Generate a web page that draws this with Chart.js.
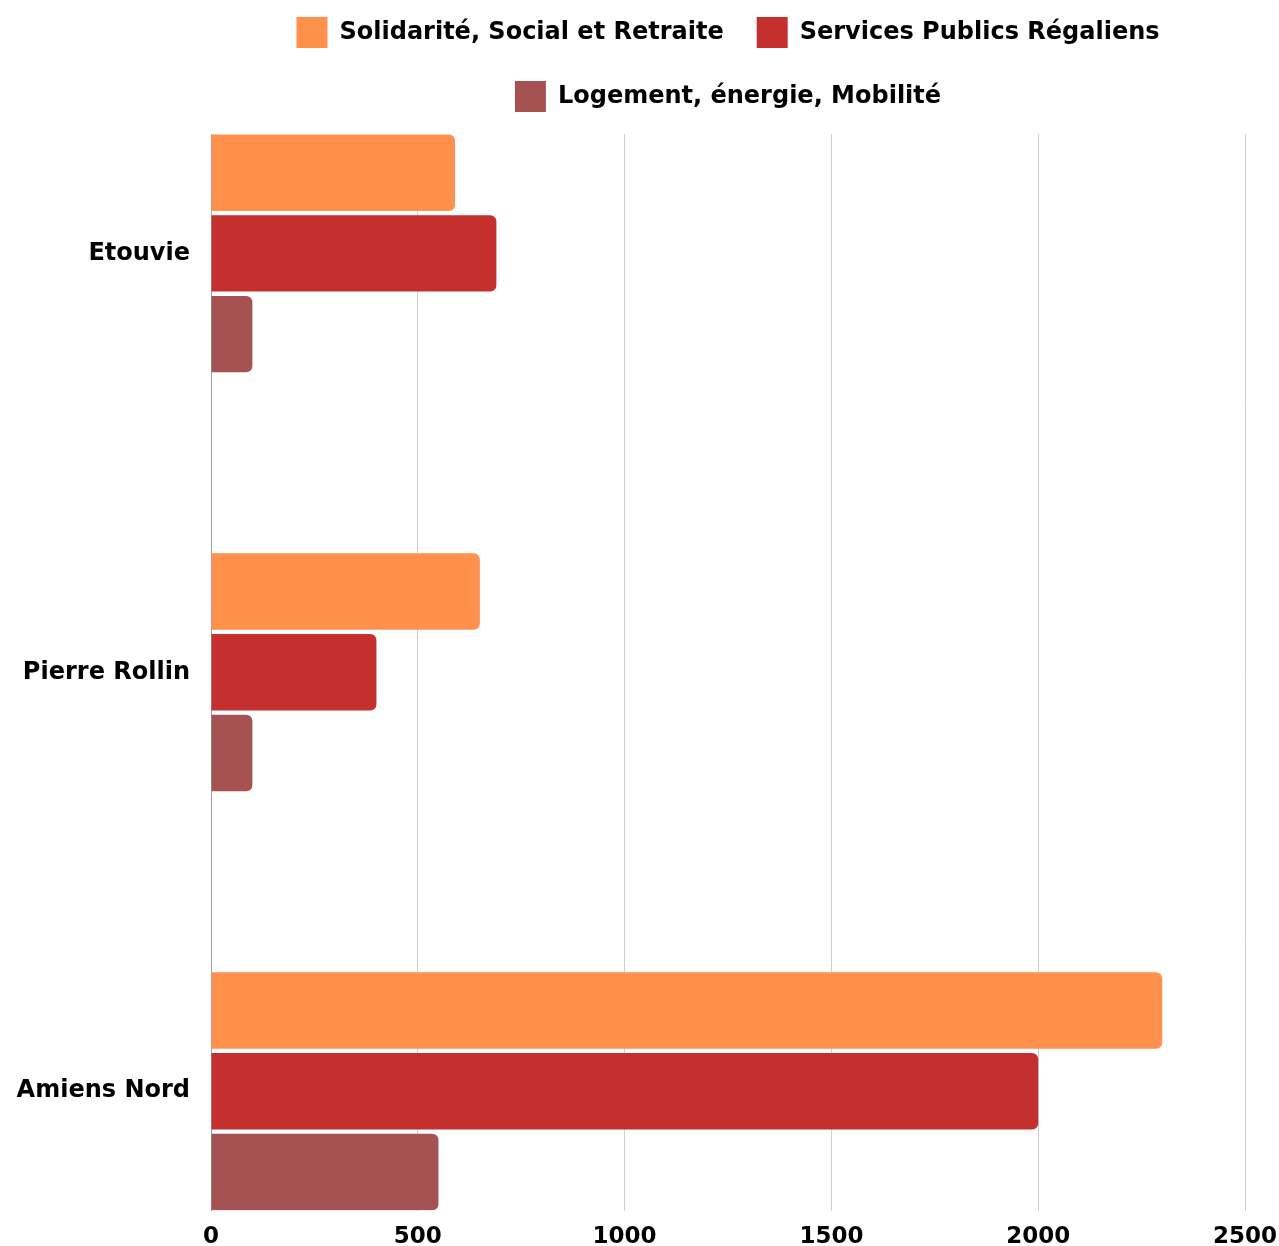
<!DOCTYPE html>
<html>
<head>
<meta charset="utf-8">
<script src="https://cdn.jsdelivr.net/npm/chart.js@4/dist/chart.umd.min.js"></script>
<style>
  html, body { margin: 0; padding: 0; background: #ffffff; }
  #wrap { width: 1279px; height: 1246px; position: relative; }
</style>
</head>
<body>
<div id="wrap"><canvas id="c"></canvas></div>
<script>
// ---- data ----
const categories = ['Etouvie', 'Pierre Rollin', 'Amiens Nord'];
const solidarite = [590, 650, 2300];
const services   = [690, 400, 2000];
const logement   = [100, 100, 550];
const seriesNames = ['Solidarité, Social et Retraite', 'Services Publics Régaliens', 'Logement, énergie, Mobilité'];
const xTicks = [0, 500, 1000, 1500, 2000, 2500];

// ---- styles ----
const colors = ['#FF914D', '#C4302E', '#A65252'];
const FONT = 'DejaVu Sans';

Chart.defaults.font.family = FONT;
Chart.defaults.color = '#000000';

function toPoints(values) {
  return categories.map((c, i) => ({ x: values[i], y: i }));
}

const legendSpacer = {
  id: 'legendSpacer',
  beforeInit(chart) {
    const orig = chart.legend.fit;
    chart.legend.fit = function () {
      orig.call(this);
      this.height += 12;
    };
  }
};

new Chart(document.getElementById('c'), {
  type: 'bar',
  data: {
    datasets: [solidarite, services, logement].map((vals, k) => ({
      label: seriesNames[k],
      data: toPoints(vals),
      backgroundColor: colors[k],
      borderWidth: 0,
      borderRadius: 6,
      categoryPercentage: 0.578,
      barPercentage: 0.947
    }))
  },
  plugins: [legendSpacer],
  options: {
    indexAxis: 'y',
    responsive: true,
    maintainAspectRatio: false,
    animation: false,
    layout: { padding: { top: -16, left: 0, right: 0, bottom: 0 } },
    plugins: {
      tooltip: { enabled: false },
      legend: {
        position: 'top',
        fullSize: false,
        labels: {
          boxWidth: 31,
          boxHeight: 31,
          padding: 33,
          color: '#000000',
          font: { family: FONT, size: 24, weight: 'bold' }
        }
      }
    },
    scales: {
      x: {
        type: 'linear',
        min: xTicks[0],
        max: xTicks[xTicks.length - 1],
        afterBuildTicks: (s) => { s.ticks = xTicks.map(v => ({ value: v })); },
        afterFit: (s) => { s.height = 35; s.paddingRight = 34; },
        grid: { color: '#cfcfcf', lineWidth: 1, drawTicks: false },
        border: { display: false },
        ticks: {
          padding: 13,
          color: '#000000',
          font: { family: FONT, size: 23, weight: 'bold' },
          callback: (v) => String(v)
        }
      },
      y: {
        type: 'linear',
        reverse: true,
        offset: false,
        min: -0.285,
        max: 2.285,
        afterBuildTicks: (s) => { s.ticks = categories.map((c, i) => ({ value: i })); },
        afterFit: (s) => { s.width = 211; },
        grid: { display: false, drawTicks: false },
        border: { display: true, color: '#a0a0a0', width: 1 },
        ticks: {
          padding: 21,
          color: '#000000',
          font: { family: FONT, size: 24, weight: 'bold' },
          callback: (v) => categories[v]
        }
      }
    }
  }
});
</script>
</body>
</html>
